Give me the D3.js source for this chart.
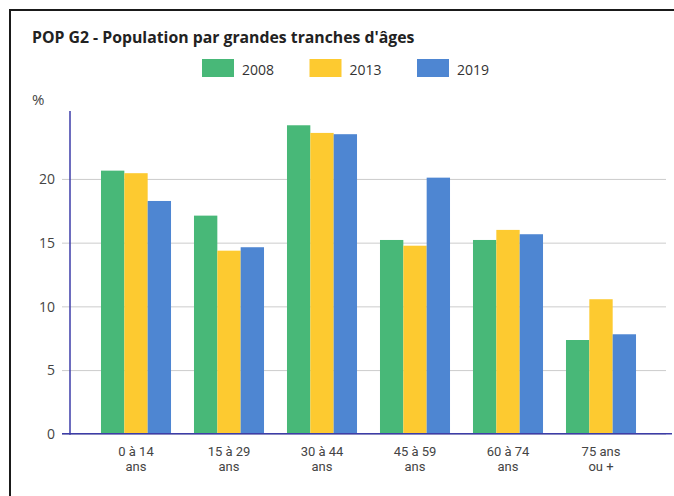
<!DOCTYPE html>
<html>
<head>
<meta charset="utf-8">
<script src="https://cdn.jsdelivr.net/npm/d3@7"></script>
<style>
  html, body { margin: 0; padding: 0; background: #fff; }
  svg { display: block; font-family: "Open Sans", "Noto Sans", sans-serif; }
</style>
</head>
<body>
<svg id="chart" width="674" height="496"></svg>
<script>
// ---- data ----
const categories = [["0 à 14", "ans"], ["15 à 29", "ans"], ["30 à 44", "ans"], ["45 à 59", "ans"], ["60 à 74", "ans"], ["75 ans", "ou +"]];
const seriesNames = ["2008", "2013", "2019"];
const values2008 = [20.65, 17.12, 24.21, 15.21, 15.21, 7.36];
const values2013 = [20.45, 14.37, 23.61, 14.76, 16.0, 10.56];
const values2019 = [18.27, 14.64, 23.51, 20.10, 15.66, 7.81];
const yTicks = [0, 5, 10, 15, 20];
const colors = ["#48b878", "#fdca30", "#4e86d2"];
const titleText = "POP G2 - Population par grandes tranches d'âges";
const yUnit = "%";

const series = [values2008, values2013, values2019];
const catKeys = categories.map(c => c.join(" "));

const svg = d3.select("#chart");

// frame
svg.append("path")
  .attr("d", "M10,500 L10,10 L680,10")
  .attr("fill", "none").attr("stroke", "#1a1a1a").attr("stroke-width", 2);

// title
svg.append("text").attr("x", 32).attr("y", 43)
  .attr("font-size", 15.8).attr("font-weight", 700).attr("fill", "#222")
  .text(titleText);

// legend
const legend = svg.append("g");
seriesNames.forEach((s, i) => {
  const gx = 202 + i * 107.5;
  legend.append("rect").attr("x", gx).attr("y", 59).attr("width", 32).attr("height", 18).attr("fill", colors[i]);
  legend.append("text").attr("x", gx + 40).attr("y", 75).attr("font-size", 14).attr("fill", "#333").text(s);
});

// scales
const y = d3.scaleLinear().domain([0, 25.33]).range([433.8, 111]);
const x0 = d3.scaleBand().domain(catKeys).range([89.5, 647.5]).paddingInner(0.247).paddingOuter(0.1235);
const x1 = d3.scaleBand().domain(seriesNames).range([0, x0.bandwidth()]);

// grid lines + y tick labels
const yAxis = d3.axisLeft(y).tickValues(yTicks).tickSize(-(666 - 62)).tickPadding(0).tickFormat(d3.format("d"));
const gy = svg.append("g").attr("transform", "translate(62,0)").call(yAxis);
gy.select(".domain").remove();
gy.selectAll(".tick line").attr("stroke", "#cccccc").attr("stroke-width", 1);
gy.selectAll(".tick text").attr("x", -7).attr("dy", "0.35em").attr("font-size", 14).attr("fill", "#444").attr("font-family", "'Open Sans', sans-serif");

// unit label
svg.append("text").attr("x", 32).attr("y", 105).attr("font-size", 15).attr("fill", "#444").text(yUnit);

// bars
const groups = svg.append("g").selectAll("g").data(catKeys).join("g")
  .attr("transform", d => `translate(${x0(d)},0)`);
groups.selectAll("rect")
  .data((d, ci) => seriesNames.map((s, si) => ({ s, si, v: series[si][ci] })))
  .join("rect")
  .attr("x", d => x1(d.s))
  .attr("width", x1.bandwidth())
  .attr("y", d => y(d.v))
  .attr("height", d => y(0) - y(d.v))
  .attr("fill", d => colors[d.si]);

// axes lines
svg.append("line").attr("x1", 70).attr("x2", 70).attr("y1", y.range()[1]).attr("y2", y(0) + 1)
  .attr("stroke", "#3d3da8").attr("stroke-width", 1.5);
svg.append("line").attr("x1", 62).attr("x2", 672).attr("y1", y(0)).attr("y2", y(0))
  .attr("stroke", "#3d3da8").attr("stroke-width", 1.5);

// x labels
const xAxis = d3.axisBottom(x0).tickSize(0).tickFormat("");
const gx = svg.append("g").attr("transform", `translate(0,${y(0)})`).call(xAxis);
gx.select(".domain").remove();
gx.selectAll(".tick").each(function(d, i) {
  categories[i].forEach((line, li) => {
    d3.select(this).append("text").attr("text-anchor", "middle").attr("font-size", 13).attr("fill", "#444")
      .attr("font-family", "Roboto, 'Open Sans', sans-serif")
      .attr("x", 0).attr("y", 22 + li * 15.7).text(line);
  });
});
</script>
</body>
</html>
